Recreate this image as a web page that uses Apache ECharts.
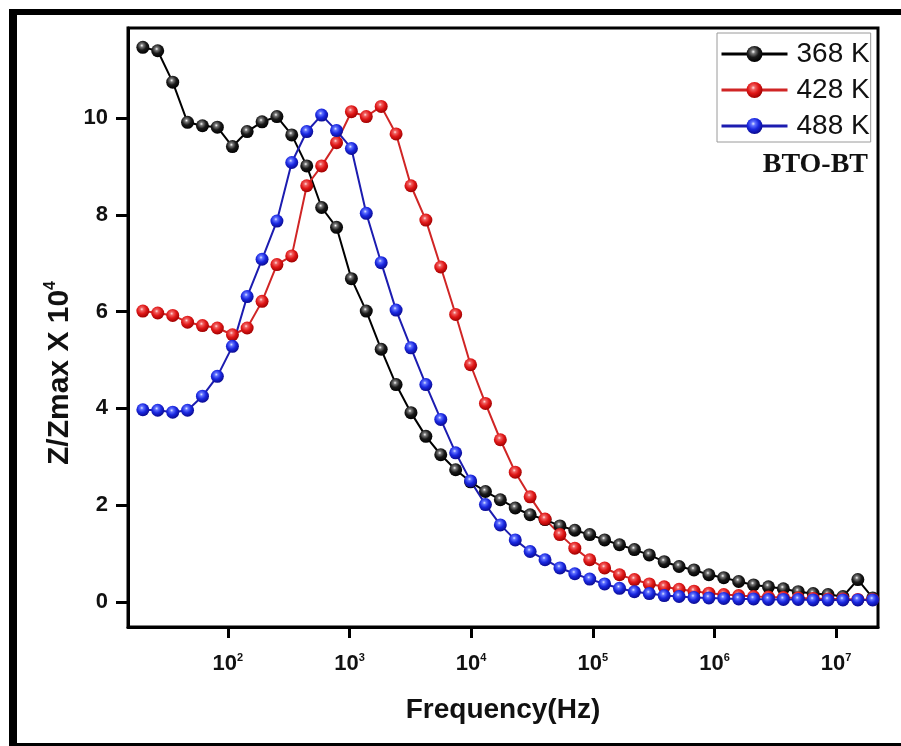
<!DOCTYPE html>
<html><head><meta charset="utf-8">
<script src="https://cdn.jsdelivr.net/npm/echarts@6/dist/echarts.min.js"></script>
<style>html,body{margin:0;padding:0;background:#fff}#c{width:901px;height:746px}</style>
</head><body><div id="c"></div><script>
// Frequency (Hz)
const freqHz = [20, 26.5, 35.2, 46.6, 61.8, 81.9, 109, 144, 191, 253,
  335, 445, 590, 782, 1036, 1373, 1821, 2414, 3200, 4242,
  5624, 7456, 9884, 13103, 17371, 23029, 30530, 40474, 53656, 71133,
  94302, 125016, 165735, 219716, 291282, 386154, 511930, 678672, 899724, 1192780,
  1581266, 2096297, 2779094, 3684291, 4884330, 6475228, 8584308, 11380338, 15087041, 20000000];
// Z/Zmax x 10^4
const z368K = [11.46, 11.39, 10.74, 9.91, 9.84, 9.81, 9.41, 9.72, 9.92, 10.03,
  9.65, 9.01, 8.15, 7.74, 6.68, 6.01, 5.22, 4.49, 3.91, 3.42,
  3.04, 2.73, 2.48, 2.28, 2.11, 1.94, 1.80, 1.70, 1.57, 1.48,
  1.39, 1.28, 1.18, 1.08, 0.97, 0.83, 0.73, 0.66, 0.56, 0.50,
  0.42, 0.35, 0.31, 0.27, 0.21, 0.17, 0.15, 0.11, 0.46, 0.08];
const z428K = [6.01, 5.97, 5.92, 5.78, 5.71, 5.66, 5.52, 5.66, 6.21, 6.97,
  7.15, 8.60, 9.01, 9.49, 10.13, 10.03, 10.24, 9.67, 8.60, 7.89,
  6.92, 5.94, 4.90, 4.10, 3.35, 2.68, 2.17, 1.71, 1.39, 1.11,
  0.87, 0.70, 0.56, 0.46, 0.37, 0.31, 0.26, 0.22, 0.18, 0.15,
  0.13, 0.11, 0.10, 0.09, 0.08, 0.07, 0.06, 0.06, 0.05, 0.05];
const z488K = [3.97, 3.96, 3.92, 3.96, 4.25, 4.66, 5.28, 6.31, 7.08, 7.87,
  9.08, 9.72, 10.06, 9.74, 9.37, 8.03, 7.01, 6.03, 5.25, 4.49,
  3.77, 3.08, 2.50, 2.01, 1.59, 1.28, 1.04, 0.87, 0.70, 0.58,
  0.47, 0.37, 0.28, 0.21, 0.17, 0.13, 0.11, 0.09, 0.08, 0.07,
  0.06, 0.06, 0.05, 0.05, 0.05, 0.04, 0.04, 0.04, 0.04, 0.04];
const seriesNames = ['368 K', '428 K', '488 K'];
const xTicks = [100, 1000, 10000, 100000, 1000000, 10000000];
const yTicks = [0, 2, 4, 6, 8, 10];

const chart = echarts.init(document.getElementById('c'), null, {renderer: 'canvas'});
function ball(hi, mid, base, dark) {
  return new echarts.graphic.RadialGradient(0.42, 0.36, 0.64, [
    {offset: 0, color: hi}, {offset: 0.2, color: mid}, {offset: 0.55, color: base}, {offset: 1, color: dark}
  ]);
}
const styles = [
  {line: '#000000', sym: ball('#ffffff', '#777777', '#1a1a1a', '#000000')},
  {line: '#d02525', sym: ball('#ffe0e0', '#f06060', '#e01818', '#a00000')},
  {line: '#1c1cb0', sym: ball('#e0e8ff', '#6070ff', '#1a28e0', '#0a0a90')}
];
const datasets = [z368K, z428K, z488K];
const series = datasets.map((vals, k) => ({
  name: seriesNames[k],
  type: 'line',
  data: freqHz.map((f, i) => [f, vals[i]]),
  symbol: 'circle',
  symbolSize: 13,
  showAllSymbol: true,
  clip: true,
  lineStyle: {color: styles[k].line, width: 2},
  itemStyle: {color: styles[k].sym},
  emphasis: {disabled: true}
}));

const boldArial = 'Arial, "Liberation Sans", sans-serif';
chart.setOption({
  animation: false,
  backgroundColor: '#fff',
  grid: {left: 128, right: 23, top: 28, bottom: 119, show: true, borderColor: '#000', borderWidth: 3, containLabel: false},
  legend: {
    orient: 'vertical', left: 717, top: 33,
    padding: [5, 1, 0, 3], itemGap: 4, itemWidth: 66, itemHeight: 20,
    borderColor: '#9a9a9a', borderWidth: 1,
    lineStyle: {width: 3},
    textStyle: {fontSize: 28, fontFamily: boldArial, color: '#111', lineHeight: 32, padding: [0, 0, 0, 4]},
    data: seriesNames
  },
  xAxis: {
    type: 'log', logBase: 10, min: 15.1, max: 2.21e7,
    axisLine: {onZero: false, lineStyle: {color: '#000', width: 3}},
    axisTick: {show: true, inside: false, length: 11, lineStyle: {color: '#000', width: 3}, customValues: xTicks},
    minorTick: {show: false},
    splitLine: {show: false},
    axisLabel: {
      customValues: xTicks,
      margin: 25,
      formatter: function (v) { return '{b|10}{s|' + Math.round(Math.log10(v)) + '}'; },
      rich: {
        b: {fontSize: 22, fontWeight: 'bold', fontFamily: boldArial, color: '#111', lineHeight: 24},
        s: {fontSize: 11, fontWeight: 'bold', fontFamily: boldArial, color: '#111', lineHeight: 11, verticalAlign: 'top'}
      }
    },
    name: 'Frequency(Hz)', nameLocation: 'middle', nameGap: 69,
    nameTextStyle: {fontSize: 28, fontWeight: 'bold', fontFamily: boldArial, color: '#111'}
  },
  yAxis: {
    type: 'value', min: -0.52, max: 11.86,
    axisLine: {show: true, onZero: false, lineStyle: {color: '#000', width: 3}},
    axisTick: {show: true, inside: false, length: 12, lineStyle: {color: '#000', width: 3}, customValues: yTicks},
    splitLine: {show: false},
    axisLabel: {customValues: yTicks, margin: 20, fontSize: 22, fontWeight: 'bold', fontFamily: boldArial, color: '#111'}
  },
  graphic: [
    {type: 'rect', shape: {x: 9, y: 9, width: 8, height: 737}, style: {fill: '#000'}, silent: true},
    {type: 'rect', shape: {x: 9, y: 9, width: 892, height: 6}, style: {fill: '#000'}, silent: true},
    {type: 'rect', shape: {x: 9, y: 743, width: 892, height: 3}, style: {fill: '#000'}, silent: true},
    {type: 'text', x: 60, y: 373, rotation: Math.PI / 2, silent: true,
      style: {text: '{m|Z/Zmax X 10}{s|4}', align: 'center', verticalAlign: 'middle', textAlign: 'center', textVerticalAlign: 'middle',
        rich: {
          m: {fontSize: 30, fontWeight: 'bold', fontFamily: boldArial, fill: '#111', lineHeight: 34},
          s: {fontSize: 16, fontWeight: 'bold', fontFamily: boldArial, fill: '#111', lineHeight: 16, verticalAlign: 'top'}
        }}},
    {type: 'text', x: 868, y: 165, silent: true,
      style: {text: 'BTO-BT', align: 'right', verticalAlign: 'middle', textAlign: 'right', textVerticalAlign: 'middle',
        font: 'bold 28px "Liberation Serif", "Times New Roman", serif', fill: '#111'}}
  ],
  series: series
});
</script></body></html>
